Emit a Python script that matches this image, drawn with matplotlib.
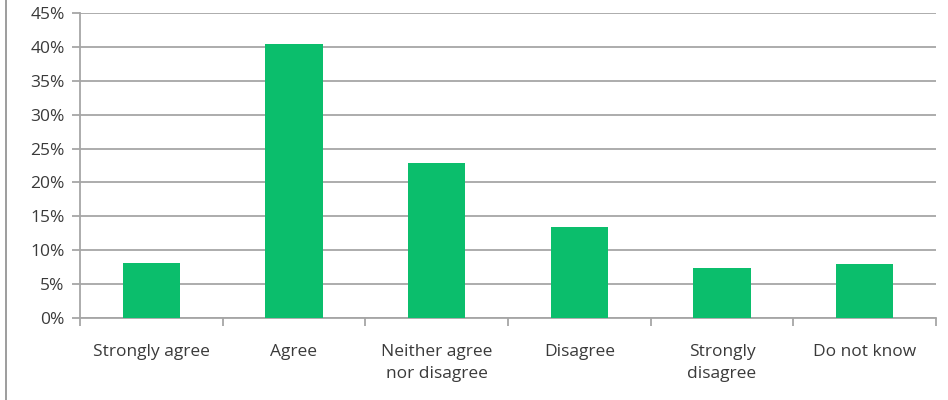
import matplotlib.pyplot as plt
from matplotlib.lines import Line2D
from matplotlib.ticker import MultipleLocator, FuncFormatter

categories = ["Strongly agree", "Agree", "Neither agree\nnor disagree",
              "Disagree", "Strongly\ndisagree", "Do not know"]
shares = [8.1, 40.4, 22.8, 13.4, 7.4, 7.9]

bar_color = "#0BBE6C"
grid_color = "#A6A6A6"
text_color = "#3A3A3A"

plt.rcParams["font.family"] = ["Open Sans", "DejaVu Sans"]

fig = plt.figure(figsize=(9.48, 4.0), dpi=100)
ax = fig.add_axes([80 / 948, 1 - 318 / 400, (936 - 80) / 948, (318 - 13) / 400])

x = list(range(len(categories)))
ax.bar(x, shares, width=0.4, color=bar_color, zorder=3)

ax.set_xlim(-0.5, len(categories) - 0.5)
ax.set_ylim(0, 45)
ax.yaxis.set_major_locator(MultipleLocator(5))
ax.yaxis.set_major_formatter(FuncFormatter(lambda v, _: f"{v:.0f}%"))
ax.grid(axis="y", color=grid_color, linewidth=1.3, zorder=0)

for side in ["top", "right"]:
    ax.spines[side].set_visible(False)
for side in ["left", "bottom"]:
    ax.spines[side].set_color(grid_color)
    ax.spines[side].set_linewidth(1.3)

ax.set_xticks([i - 0.5 for i in range(len(categories) + 1)])
ax.set_xticklabels([])
ax.set_xticks(x, minor=True)
ax.set_xticklabels(categories, minor=True, fontsize=12.5, color=text_color,
                   linespacing=1.55, va="top")
ax.tick_params(axis="x", which="major", length=6, color=grid_color, width=1.3)
ax.tick_params(axis="x", which="minor", length=0, pad=18.5)
ax.tick_params(axis="y", length=6, color=grid_color, width=1.3,
               labelsize=12.5, labelcolor=text_color, pad=5)

fig.add_artist(Line2D([6 / 948, 6 / 948], [0, 1], transform=fig.transFigure,
                      color="#8C8C8C", linewidth=1.2))

fig.savefig("out.png", dpi=100)
